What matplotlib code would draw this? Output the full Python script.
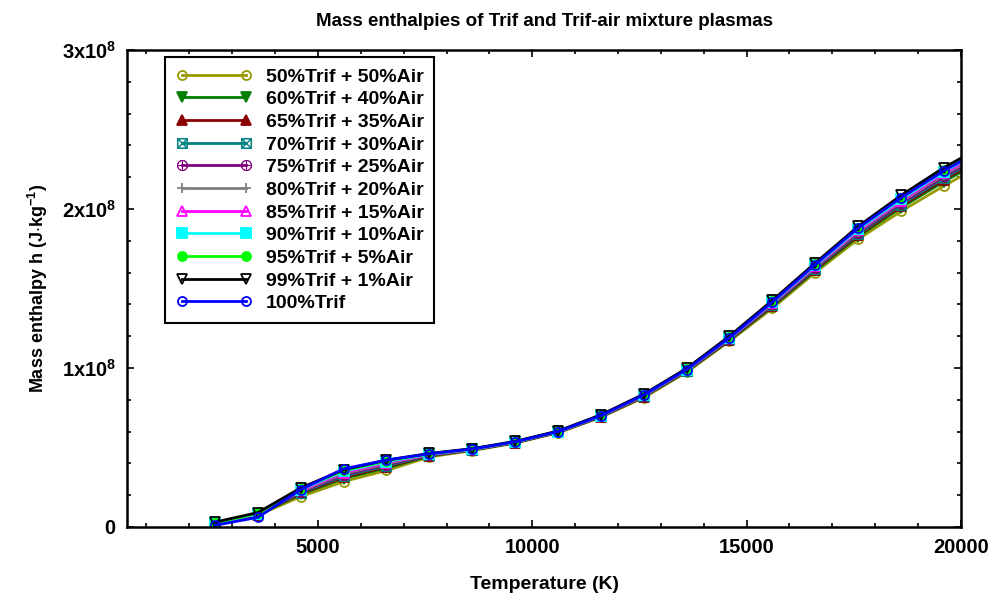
import matplotlib
matplotlib.use("Agg")
import matplotlib.pyplot as plt
from matplotlib.ticker import MultipleLocator, FixedLocator, FuncFormatter

plt.rcParams["font.family"] = ["Liberation Sans", "DejaVu Sans"]
plt.rcParams["mathtext.fontset"] = "custom"
plt.rcParams["mathtext.rm"] = "Liberation Sans"
plt.rcParams["mathtext.bf"] = "Liberation Sans:bold"

# temperatures (K) and mass enthalpy values (x1e8 J/kg)
T = [2600, 3600, 4600, 5600, 6600, 7600, 8600, 9600, 10600, 11600,
     12600, 13600, 14600, 15600, 16600, 17600, 18600, 19600, 20000]

h50 = [0.016, 0.074, 0.190, 0.285, 0.355, 0.440, 0.480, 0.527, 0.592, 0.690,
       0.813, 0.973, 1.168, 1.375, 1.600, 1.810, 1.985, 2.145, 2.205]
h60 = [0.018, 0.076, 0.205, 0.304, 0.370, 0.446, 0.483, 0.529, 0.594, 0.692,
       0.818, 0.978, 1.174, 1.385, 1.612, 1.826, 2.008, 2.172, 2.232]
h65 = [0.019, 0.077, 0.210, 0.312, 0.378, 0.448, 0.484, 0.530, 0.595, 0.693,
       0.820, 0.980, 1.177, 1.390, 1.618, 1.834, 2.018, 2.185, 2.245]
h70 = [0.020, 0.078, 0.215, 0.320, 0.385, 0.450, 0.485, 0.531, 0.596, 0.695,
       0.822, 0.982, 1.180, 1.395, 1.624, 1.842, 2.027, 2.195, 2.255]
h75 = [0.021, 0.079, 0.220, 0.328, 0.392, 0.452, 0.486, 0.532, 0.597, 0.696,
       0.824, 0.984, 1.182, 1.400, 1.630, 1.850, 2.036, 2.205, 2.265]
h80 = [0.022, 0.080, 0.225, 0.335, 0.398, 0.454, 0.487, 0.533, 0.598, 0.698,
       0.826, 0.986, 1.185, 1.405, 1.635, 1.858, 2.045, 2.215, 2.275]
h85 = [0.023, 0.081, 0.230, 0.342, 0.404, 0.456, 0.488, 0.534, 0.599, 0.699,
       0.828, 0.988, 1.188, 1.410, 1.640, 1.865, 2.052, 2.225, 2.285]
h90 = [0.024, 0.083, 0.235, 0.350, 0.410, 0.458, 0.489, 0.535, 0.600, 0.700,
       0.830, 0.990, 1.190, 1.413, 1.645, 1.872, 2.060, 2.235, 2.295]
h95 = [0.025, 0.085, 0.240, 0.355, 0.415, 0.460, 0.490, 0.536, 0.601, 0.702,
       0.832, 0.993, 1.195, 1.418, 1.652, 1.880, 2.070, 2.245, 2.305]
h99 = [0.030, 0.090, 0.245, 0.360, 0.420, 0.462, 0.492, 0.538, 0.603, 0.705,
       0.835, 0.997, 1.200, 1.425, 1.660, 1.890, 2.085, 2.260, 2.320]
h100 = [0.010, 0.060, 0.235, 0.365, 0.420, 0.460, 0.490, 0.535, 0.600, 0.700,
        0.830, 0.990, 1.190, 1.415, 1.650, 1.880, 2.070, 2.240, 2.300]

labels = ["50%Trif + 50%Air", "60%Trif + 40%Air", "65%Trif + 35%Air",
          "70%Trif + 30%Air", "75%Trif + 25%Air", "80%Trif + 20%Air",
          "85%Trif + 15%Air", "90%Trif + 10%Air", "95%Trif + 5%Air",
          "99%Trif + 1%Air", "100%Trif"]
series = [h50, h60, h65, h70, h75, h80, h85, h90, h95, h99, h100]

colors = ["#999900", "#007f00", "#8b0000", "#008080", "#800080", "#808080",
          "#ff00ff", "#00ffff", "#00ff00", "#000000", "#0000ff"]
markers = ["o", "v", "^", r"$\boxtimes$", r"$\oplus$", "+", "^", "s", "o", "v", "o"]
filled = [False, True, True, True, True, True, False, True, True, False, False]

fig = plt.figure(figsize=(10.01, 5.96), dpi=100)
ax = fig.add_axes([0.127, 0.116, 0.833, 0.800])

for ys, lab, c, m, f in zip(series, labels, colors, markers, filled):
    ax.plot(T, [v * 1e8 for v in ys], color=c, lw=2.0, marker=m,
            markersize=7.5 if m.startswith("$") else 6.5,
            markerfacecolor=c if f else "none", markeredgecolor=c,
            markeredgewidth=1.3 if not m.startswith("$") else 0.5,
            markevery=slice(0, len(T) - 1), label=lab)

ax.set_xlim(550, 20000)
ax.set_ylim(0, 3e8)
ax.xaxis.set_major_locator(FixedLocator([5000, 10000, 15000, 20000]))
ax.xaxis.set_minor_locator(MultipleLocator(1000))
ax.yaxis.set_major_locator(MultipleLocator(1e8))
ax.yaxis.set_minor_locator(MultipleLocator(2e7))


def _yfmt(v, pos):
    n = int(round(v / 1e8))
    if n == 0:
        return r"$\mathbf{0}$"
    return r"$\mathbf{%dx10^{8}}$" % n


ax.yaxis.set_major_formatter(FuncFormatter(_yfmt))

ax.tick_params(which="both", direction="in", top=True, right=True,
               labelsize=14.5, width=1.2)
ax.tick_params(which="major", length=5, pad=8)
ax.tick_params(which="minor", length=3)
for lbl in ax.get_xticklabels():
    lbl.set_fontweight("bold")
for sp in ax.spines.values():
    sp.set_linewidth(1.8)

ax.set_xlabel("Temperature (K)", fontsize=14, fontweight="bold", labelpad=14)
ax.set_ylabel(r"Mass enthalpy h (J$\cdot$kg$^{\mathbf{-1}}$)", fontsize=13,
              fontweight="bold", labelpad=8)
ax.set_title("Mass enthalpies of Trif and Trif-air mixture plasmas",
             fontsize=13.5, fontweight="bold", pad=17)

leg = ax.legend(loc="upper left", bbox_to_anchor=(0.046, 0.985), borderaxespad=0,
                numpoints=2, handlelength=3.9, handletextpad=0.7,
                labelspacing=0.26, borderpad=0.55,
                fancybox=False, edgecolor="black", framealpha=1,
                prop={"weight": "bold", "size": 14})
leg.get_frame().set_linewidth(1.5)

fig.savefig("out.png", dpi=100)
